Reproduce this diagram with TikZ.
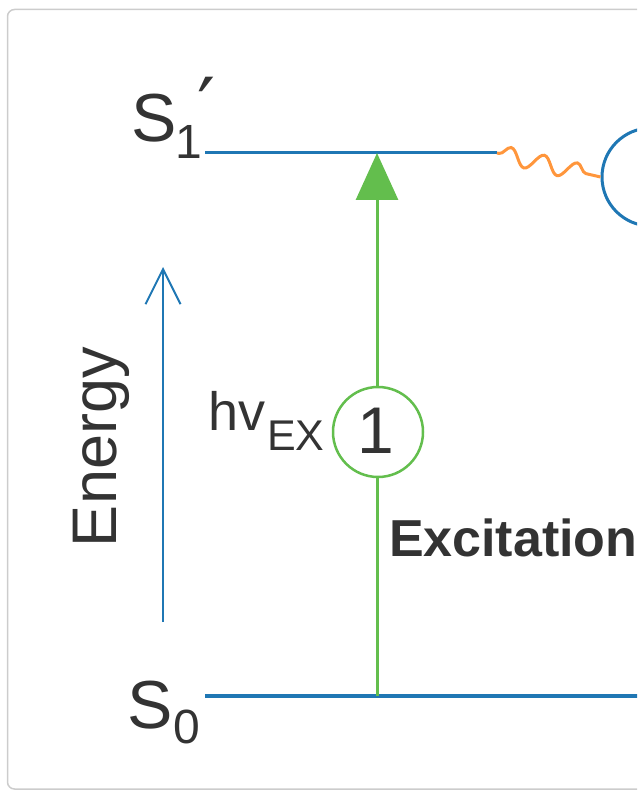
\documentclass[tikz,border=0pt]{standalone}
\usepackage{fontspec}
\setmainfont{Liberation Sans}
\newfontfamily\symfont{DejaVu Sans}
\usetikzlibrary{arrows.meta,decorations.pathmorphing}
\definecolor{lvlblue}{RGB}{31,119,180}
\definecolor{exgreen}{RGB}{99,190,77}
\definecolor{vorange}{RGB}{255,150,60}
\definecolor{txt}{RGB}{51,51,51}
\definecolor{frame}{RGB}{204,204,204}
\tikzset{
  lbl/.style={inner sep=0pt, outer sep=0pt, text=txt},
  level/.style={draw=lvlblue, line width=3pt},
  numcircle/.style={circle, draw=exgreen, line width=2.5pt, fill=white, minimum size=90pt, inner sep=0pt},
}
\begin{document}
\begin{tikzpicture}[x=1pt,y=-1pt]
\useasboundingbox (0,0) rectangle (637,791);
\clip (0,0) rectangle (637,791);
% frame
\coordinate (ftr) at (720,9.5);
\coordinate (fbr) at (720,789);
\draw[frame, line width=1.5pt, rounded corners=7pt] (ftr) -| (7.5,789) -- (fbr);
% levels
\coordinate (s1a) at (205,153);
\coordinate (s1b) at (497,153);
\coordinate (s0a) at (205,696);
\coordinate (s0b) at (660,696);
\draw[level] (s1a) -- (s1b);
\draw[level, line width=3.5pt] (s0a) -- (s0b);
% labels
\node[lbl, anchor=base west, font=\fontsize{68}{68}\selectfont] (S1) at (131,142) {S};
\node[lbl, anchor=base west, font=\fontsize{48}{48}\selectfont] (S1sub) at (175,159) {1};
\node[lbl, anchor=center, font=\symfont\fontsize{80}{80}\selectfont] (S1pr) at (207,106) {′};
\node[lbl, anchor=base west, font=\fontsize{68}{68}\selectfont] (S0) at (127,728) {S};
\node[lbl, anchor=base west, font=\fontsize{48}{48}\selectfont] (S0sub) at (173,743) {0};
% energy arrow
\coordinate (ea) at (163,622);
\coordinate (eb) at (163,267);
\draw[lvlblue, line width=2.4pt, -{Straight Barb[length=35pt,width=35pt,line width=2pt]}] (ea) -- (eb);
\node[lbl, rotate=90, anchor=base west, font=\fontsize{63}{63}\selectfont] (energy) at (116,547) {Energy};
% excitation arrow
\coordinate (xa) at (377,696);
\coordinate (xb) at (377,153);
\draw[exgreen, line width=3pt, -{Triangle[length=47pt,width=42pt]}] (xa) -- (xb);
\node[numcircle] (c1) at (378,432) {};
\node[lbl, anchor=base, font=\fontsize{66}{66}\selectfont] (one) at (376,453) {1};
\node[lbl, anchor=base west, font=\fontsize{54}{54}\selectfont] (hv) at (208,430) {hv};
\node[lbl, anchor=base west, font=\fontsize{43}{43}\selectfont] (ex) at (267,450) {EX};
\node[lbl, anchor=base west, font=\bfseries\fontsize{52}{52}\selectfont] (exc) at (389,556) {Excitation};
% vibrational relaxation
\node[circle, draw=lvlblue, line width=3pt, minimum size=98pt, inner sep=0pt] (c2) at (651,177) {};
\node[lbl, anchor=base, font=\fontsize{66}{66}\selectfont] (two) at (657,200) {2};
\draw[vorange, line width=3pt, decorate, decoration={snake, segment length=34pt, amplitude=8.5pt, pre length=2pt, post length=2pt}] (s1b) -- (c2.west);
\end{tikzpicture}
\end{document}
